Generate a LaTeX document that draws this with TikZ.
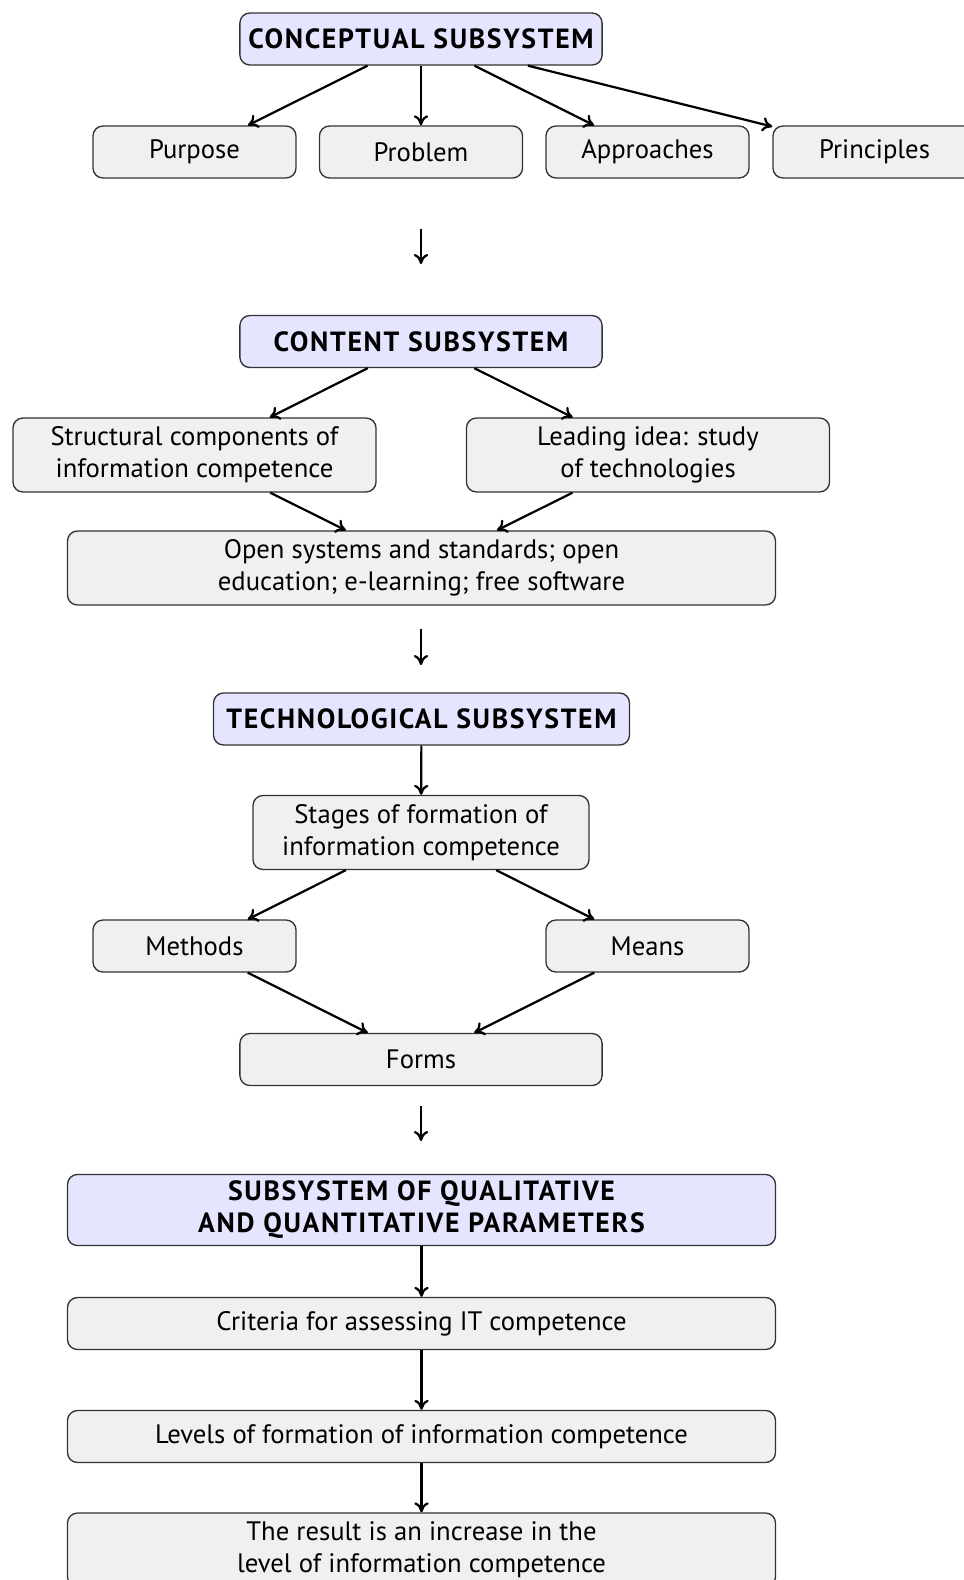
\documentclass[tikz,border=0pt]{standalone}
\usepackage{fontspec}
\setmainfont{PT Sans}
\usepackage{tikz}
\usetikzlibrary{arrows.meta}
\tikzset{
	box/.style={draw=black!80, line width=0.6pt, rounded corners=4.5pt, fill=black!6, align=center, inner sep=0pt, minimum height=23.4pt, font=\fontsize{12}{14.4}\selectfont},
	headbox/.style={box, fill=blue!10, font=\fontsize{12.5}{14.4}\selectfont\bfseries\addfontfeatures{LetterSpace=6}},
	tallbox/.style={minimum height=33.3pt},
	arr/.style={-{To[length=4.5pt,width=6.5pt]}, line width=1pt}
}

\begin{document}
\begin{tikzpicture}[x=0.45pt, y=-0.45pt]
		%%%%% START %%%%%
		\useasboundingbox (0, 0) rectangle (963, 1580);
		
		\node[headbox, minimum width=163pt] (concept) at (421, 39) {CONCEPTUAL SUBSYSTEM};
		\node[box, minimum width=91.4pt] (purpose) at (194.5, 152) {Purpose};
		\node[box, minimum width=91.4pt] (problem) at (421, 152) {Problem};
		\node[box, minimum width=91.4pt] (approach) at (647.5, 152) {Approaches};
		\node[box, minimum width=91.4pt] (principle) at (874.5, 152) {Principles};
		
		\draw[arr] (concept) -- (purpose);
		\draw[arr] (concept) -- (problem);
		\draw[arr] (concept) -- (approach);
		\draw[arr] (concept) -- (principle);
		
		\coordinate (gapA) at (421, 229);
		\coordinate (gapB) at (421, 264);
		\draw[arr] (gapA) -- (gapB);
		
		\node[headbox, minimum width=163pt] (content) at (421, 341.5) {CONTENT SUBSYSTEM};
		\node[box, tallbox, minimum width=163.4pt] (struct) at (194.5, 455) {Structural components of\\information competence};
		\node[box, tallbox, minimum width=163.4pt] (leading) at (648, 455) {Leading idea: study\\of technologies};
		\node[box, tallbox, minimum width=318.6pt] (open) at (421.5, 568) {Open systems and standards; open\\education; e-learning; free software};
		
		\draw[arr] (content) -- (struct);
		\draw[arr] (content) -- (leading);
		\draw[arr] (struct) -- (open);
		\draw[arr] (leading) -- (open);
		
		\coordinate (gapC) at (421, 629);
		\coordinate (gapD) at (421, 665);
		\draw[arr] (gapC) -- (gapD);
		
		\node[headbox, minimum width=187.2pt] (techno) at (421.5, 719) {TECHNOLOGICAL SUBSYSTEM};
		\node[box, tallbox, minimum width=151.2pt] (stages) at (421, 832.5) {Stages of formation of\\information competence};
		\node[box, minimum width=91.4pt] (methods) at (194.5, 946) {Methods};
		\node[box, minimum width=91.4pt] (means) at (647.5, 946) {Means};
		\node[box, minimum width=163pt] (forms) at (421, 1059.5) {Forms};
		
		\draw[arr] (techno) -- (stages);
		\draw[arr] (stages) -- (methods);
		\draw[arr] (stages) -- (means);
		\draw[arr] (methods) -- (forms);
		\draw[arr] (means) -- (forms);
		
		\coordinate (gapE) at (421, 1106);
		\coordinate (gapF) at (421, 1141);
		\draw[arr] (gapE) -- (gapF);
		
		\node[headbox, minimum width=318.6pt, minimum height=32pt] (params) at (421.5, 1210) {SUBSYSTEM OF QUALITATIVE\\AND QUANTITATIVE PARAMETERS};
		\node[box, minimum width=318.6pt] (criteria) at (421.5, 1323.5) {Criteria for assessing IT competence};
		\node[box, minimum width=318.6pt] (levels) at (421.5, 1436.5) {Levels of formation of information competence};
		\node[box, tallbox, minimum width=318.6pt] (result) at (421.5, 1550) {The result is an increase in the\\level of information competence};
		
		\draw[arr] (params) -- (criteria);
		\draw[arr] (criteria) -- (levels);
		\draw[arr] (levels) -- (result);
		
		%%%%% END %%%%%
	\end{tikzpicture}
\end{document}
